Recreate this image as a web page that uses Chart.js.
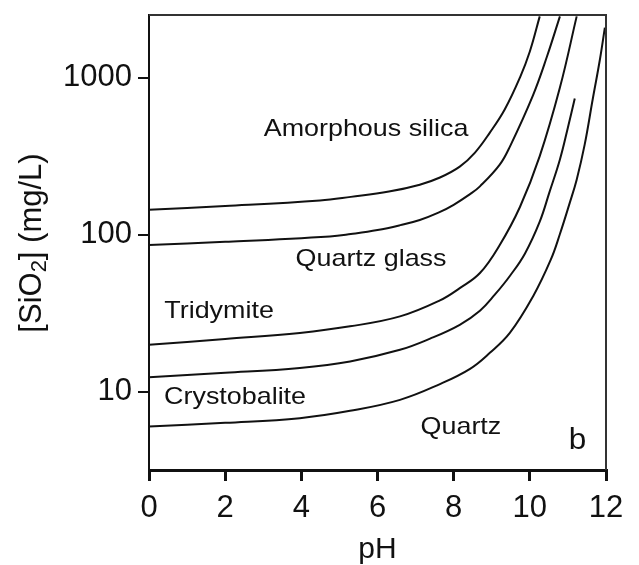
<!DOCTYPE html>
<html>
<head>
<meta charset="utf-8">
<script src="https://cdn.jsdelivr.net/npm/chart.js@4"></script>
<style>
  html, body { margin: 0; padding: 0; background: #fff; }
  #wrap { width: 639px; height: 565px; position: relative; }
</style>
</head>
<body>
<div id="wrap"><canvas id="silica"></canvas></div>
<script>
/* ===================== DATA ===================== */
const amorphousPH = [0, 2, 4.49, 5.3, 6.3, 7.11, 7.64, 8.16, 8.56, 8.95, 9.34, 9.74, 10.0, 10.26];
const amorphousSi = [144, 152, 165, 174, 188, 208, 231, 271, 333, 446, 626, 1000, 1465, 2450];

const glassPH = [0, 2, 4.75, 5.3, 6.0, 6.6, 7.11, 7.6, 8.0, 8.43, 8.69, 9.21, 9.48, 10.08, 10.45, 10.79];
const glassSi = [86, 90, 97.5, 101, 107, 115, 124, 138, 155, 181, 203, 279, 365, 768, 1360, 2450];

const tridymitePH = [0, 2, 3.96, 5.28, 6.59, 7.64, 8.16, 8.69, 9.21, 9.74, 10.26, 10.79, 11.23];
const tridymiteSi = [19.9, 21.7, 23.7, 26.1, 30.2, 38.2, 45.7, 57, 86, 150, 316, 863, 2450];

const crystobalitePH = [0, 2, 3.96, 5.28, 6.59, 7.38, 8.16, 8.69, 9.08, 9.48, 9.87, 10.26, 10.52, 10.79, 11.0, 11.18];
const crystobaliteSi = [12.4, 13.2, 14.2, 15.6, 18.5, 21.8, 26.7, 32.8, 41.5, 54.8, 75.7, 121, 188, 301, 481, 735];

const quartzPH = [0, 2, 3.96, 5.28, 6.59, 7.64, 8.43, 8.95, 9.48, 10.08, 10.55, 10.79, 11.05, 11.23, 11.44, 11.65, 11.84, 11.97];
const quartzSi = [6.01, 6.35, 6.8, 7.57, 8.89, 11.2, 14.0, 17.7, 23.8, 40.3, 69.3, 101, 160, 224, 374, 725, 1303, 2080];

const xTicks = [0, 2, 4, 6, 8, 10, 12];
const yTicks = [10, 100, 1000];

// region labels: text, pH, concentration
const regionText = ["Amorphous silica", "Quartz glass", "Tridymite", "Crystobalite", "Quartz"];
const regionPH   = [5.7, 5.83, 1.84, 2.26, 8.19];
const regionSi   = [467, 70, 32.3, 9.2, 5.9];

const FONT = "'Liberation Sans', Arial, sans-serif";

/* ========== helpers ========== */
function toPoints(xs, ys) {
  return xs.map((x, i) => ({ x: x, y: ys[i] }));
}
function curve(xs, ys) {
  return {
    data: toPoints(xs, ys),
    borderColor: "#111",
    borderWidth: 2,
    pointRadius: 0,
    fill: false,
    tension: 0.4
  };
}

// text slightly wider than tall, like the scanned figure
function wideText(ctx, text, x, y, stretch) {
  ctx.save();
  ctx.translate(x, y);
  ctx.scale(stretch, 1);
  ctx.fillText(text, 0, 0);
  ctx.restore();
}

/* ========== frame + labels plugin ========== */
const decorPlugin = {
  id: "decor",
  afterDatasetsDraw(chart) {
    const { ctx, chartArea: a, scales } = chart;
    ctx.save();
    // top + right frame
    ctx.strokeStyle = "#333";
    ctx.lineWidth = 2;
    ctx.beginPath();
    ctx.moveTo(a.left, a.top);
    ctx.lineTo(a.right, a.top);
    ctx.lineTo(a.right, a.bottom);
    ctx.stroke();

    ctx.fillStyle = "#111";
    ctx.textAlign = "center";
    ctx.textBaseline = "middle";
    ctx.font = "24px " + FONT;
    regionText.forEach((t, i) => {
      wideText(ctx, t, scales.x.getPixelForValue(regionPH[i]), scales.y.getPixelForValue(regionSi[i]), 1.12);
    });
    ctx.font = "30px " + FONT;
    wideText(ctx, "b", scales.x.getPixelForValue(11.25), scales.y.getPixelForValue(4.9), 1.05);

    // y axis title with subscript
    ctx.translate(32, 243);
    ctx.rotate(-Math.PI / 2);
    ctx.textAlign = "left";
    ctx.textBaseline = "middle";
    const big = "31px " + FONT;
    const small = "22px " + FONT;
    const parts = [["[SiO", big, 0], ["2", small, 8], ["] (mg/L)", big, 0]];
    let total = 0;
    parts.forEach(p => { ctx.font = p[1]; total += ctx.measureText(p[0]).width; });
    let xpos = -total / 2;
    parts.forEach(p => {
      ctx.font = p[1];
      ctx.fillText(p[0], xpos, p[2]);
      xpos += ctx.measureText(p[0]).width;
    });
    ctx.restore();
  }
};

/* ========== Chart ========== */
const ctx = document.getElementById("silica").getContext("2d");
new Chart(ctx, {
  type: "line",
  data: {
    datasets: [
      curve(amorphousPH, amorphousSi),
      curve(glassPH, glassSi),
      curve(tridymitePH, tridymiteSi),
      curve(crystobalitePH, crystobaliteSi),
      curve(quartzPH, quartzSi)
    ]
  },
  options: {
    responsive: true,
    maintainAspectRatio: false,
    animation: false,
    layout: { padding: { left: 0, right: 33, top: 15, bottom: 0 } },
    plugins: { legend: { display: false }, tooltip: { enabled: false } },
    scales: {
      x: {
        type: "linear",
        min: 0,
        max: 12,
        afterBuildTicks: s => { s.ticks = xTicks.map(v => ({ value: v })); },
        afterFit: s => { s.height = 95; s.paddingLeft = 0; s.paddingRight = 0; },
        grid: { drawOnChartArea: false, drawTicks: true, tickLength: 11, color: "#111", lineWidth: 3 },
        border: { display: true, color: "#111", width: 3 },
        ticks: {
          color: "#111",
          padding: 9,
          font: { family: FONT, size: 31 }
        },
        title: {
          display: true,
          text: "pH",
          color: "#111",
          padding: { top: 0, bottom: 0 },
          font: { family: FONT, size: 30, lineHeight: 1.05 }
        }
      },
      y: {
        type: "logarithmic",
        min: 3.18,
        max: 2500,
        afterBuildTicks: s => { s.ticks = yTicks.map(v => ({ value: v })); },
        afterFit: s => { s.width = 149; s.paddingTop = 0; s.paddingBottom = 0; },
        grid: { drawOnChartArea: false, drawTicks: true, tickLength: 11, color: "#111", lineWidth: 2 },
        border: { display: true, color: "#111", width: 2 },
        ticks: {
          color: "#111",
          padding: 6,
          callback: v => String(v),
          font: { family: FONT, size: 31 }
        }
      }
    }
  },
  plugins: [decorPlugin]
});
</script>
</body>
</html>
